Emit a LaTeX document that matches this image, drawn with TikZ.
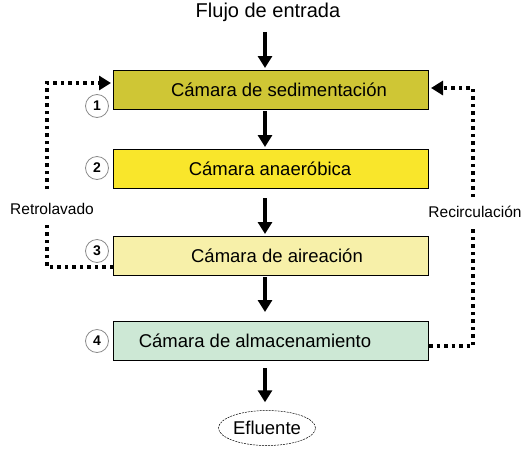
\documentclass[tikz,border=0pt]{standalone}
\usepackage{fontspec}
\setmainfont{Liberation Sans}
\usetikzlibrary{arrows.meta,shapes.geometric,calc}
\definecolor{cSed}{HTML}{CFC635}
\definecolor{cAna}{HTML}{F9E62B}
\definecolor{cAir}{HTML}{F7F0A9}
\definecolor{cAlm}{HTML}{CDE8D5}
\tikzset{
  chamber/.style={draw=black, line width=1pt, minimum width=315pt, minimum height=39pt, inner sep=0pt, anchor=north west},
  ctext/.style={font=\fontsize{18.5}{22}\selectfont},
  numc/.style={circle, draw=black!45, line width=0.8pt, fill=white, minimum size=23pt, inner sep=0pt, font=\fontsize{14}{16}\selectfont\bfseries},
  flow/.style={line width=3.5pt, -{Triangle[length=12pt,width=14pt]}},
  dots/.style={line width=3.5pt, dash pattern=on 3.5pt off 4pt},
  dotarrow/.style={dots, -{Triangle[length=12pt,width=14pt]}},
  lbl/.style={font=\fontsize{15.5}{18}\selectfont, inner sep=0pt}
}
\begin{document}
\begin{tikzpicture}[x=1pt,y=-1pt]
\useasboundingbox (0,0) rectangle (529,453);
% chambers
\node[chamber, fill=cSed] (b1) at (113,70) {};
\node[chamber, fill=cAna] (b2) at (113,149) {};
\node[chamber, fill=cAir] (b3) at (113,236) {};
\node[chamber, fill=cAlm] (b4) at (113,321) {};
\node[ctext] (t1) at (279,89.5) {Cámara de sedimentación};
\node[ctext] (t2) at (270,168.5) {Cámara anaeróbica};
\node[ctext] (t3) at (277,255.5) {Cámara de aireación};
\node[ctext] (t4) at (255,340.5) {Cámara de almacenamiento};
% title and effluent
\node[font=\fontsize{20}{24}\selectfont] (title) at (268,12) {Flujo de entrada};
\node[ellipse, draw, dashed, dash pattern=on 2pt off 1pt, line width=0.5pt, minimum width=97pt, minimum height=35pt, inner sep=0pt, font=\fontsize{18.5}{22}\selectfont] (ef) at (267,428) {Efluente};
% numbers
\node[numc] (n1) at (97,106) {1};
\node[numc] (n2) at (97,168) {2};
\node[numc] (n3) at (97,251) {3};
\node[numc] (n4) at (97,341) {4};
% main flow arrows
\coordinate (ax) at (265,0);
\draw[flow, shorten <=7pt, shorten >=2pt] (title.south -| ax) -- (b1.north -| ax);
\draw[flow, shorten <=1pt, shorten >=2pt] (b1.south -| ax) -- (b2.north -| ax);
\draw[flow, shorten <=9pt, shorten >=2pt] (b2.south -| ax) -- (b3.north -| ax);
\draw[flow, shorten <=1pt, shorten >=9pt] (b3.south -| ax) -- (b4.north -| ax);
\draw[flow, shorten <=7pt, shorten >=8pt] (b4.south -| ax) -- (ef.north -| ax);
% backwash
\node[lbl] (rl) at (52,209) {Retrolavado};
\coordinate (r1) at (47,267);
\coordinate (r2) at (47,83);
\draw[dots] (b3.west |- r1) -- (r1) -- ($(rl.south -| r1)+(0,9)$);
\draw[dotarrow, shorten >=2pt] ($(rl.north -| r1)+(0,-14)$) -- (r2) -- (b1.west |- r2);
% recirculation
\node[lbl] (rc) at (475,212) {Recirculación};
\coordinate (c1) at (473,346);
\coordinate (c2) at (473,88);
\draw[dots] (b4.east |- c1) -- (c1) -- ($(rc.south -| c1)+(0,9)$);
\draw[dotarrow, shorten >=2pt] ($(rc.north -| c1)+(0,-9)$) -- (c2) -- (b1.east |- c2);
\end{tikzpicture}
\end{document}
